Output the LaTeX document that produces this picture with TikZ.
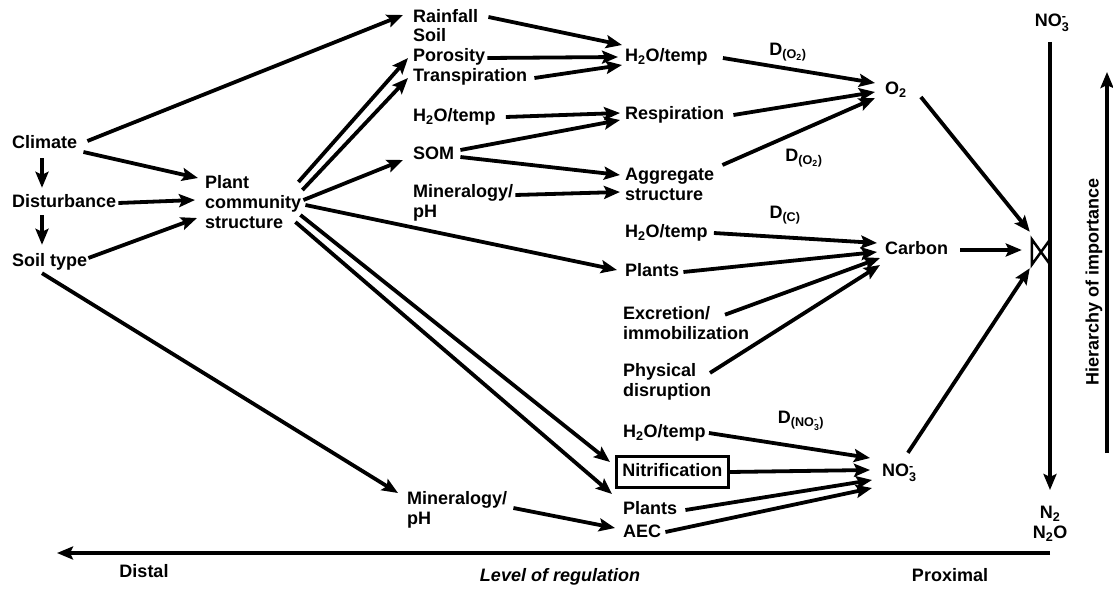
\documentclass[tikz,border=0pt]{standalone}
\usepackage{amsmath}
\usepackage{fontspec}
\setmainfont{Liberation Sans}
\usetikzlibrary{arrows.meta}
\newcommand{\nothree}{NO$^{\text{-}}_{\text{3}}$}
\begin{document}
\begin{tikzpicture}[x=1pt,y=1pt,
  lbl/.style={anchor=west, inner sep=0pt, font=\fontsize{18}{20}\selectfont\bfseries, text height=13pt, text depth=4pt},
  mlbl/.style={anchor=west, inner sep=0pt, font=\fontsize{18}{20}\selectfont\bfseries, align=left},
  dlab/.style={inner sep=0pt, font=\fontsize{18}{20}\selectfont\bfseries},
  arr/.style={line width=3.8pt, -{Stealth[length=16pt,width=13pt,inset=3pt]}},
  ln/.style={line width=3.8pt}]
\useasboundingbox (0,0) rectangle (1113,-591);

% column 1
\node[lbl] (climate) at (12,-144) {Climate};
\node[lbl] (dist) at (12,-203) {Disturbance};
\node[lbl] (soil) at (12,-262) {Soil type};
\node[mlbl] (plant) at (205,-202) {Plant\\community\\structure};
% column 2
\node[lbl] (rain) at (413,-18) {Rainfall};
\node[lbl] (soilw) at (413,-37) {Soil};
\node[lbl] (poro) at (413,-57) {Porosity};
\node[lbl] (trans) at (413,-77) {Transpiration};
\node[lbl] (h2oa) at (413,-117) {H\textsubscript{2}O/temp};
\node[lbl] (som) at (413,-155) {SOM};
\node[mlbl] (mina) at (413,-203) {Mineralogy/\\pH};
\node[mlbl] (minb) at (407,-510) {Mineralogy/\\pH};
% column 3
\node[lbl] (h2ob) at (625,-57) {H\textsubscript{2}O/temp};
\node[lbl] (resp) at (625,-115) {Respiration};
\node[mlbl] (aggr) at (625,-184) {Aggregate\\structure};
\node[lbl] (h2oc) at (625,-233) {H\textsubscript{2}O/temp};
\node[lbl] (plantsa) at (625,-272) {Plants};
\node[mlbl] (excr) at (623,-323) {Excretion/\\immobilization};
\node[mlbl] (phys) at (623,-382) {Physical\\disruption};
\node[lbl] (h2od) at (623,-433) {H\textsubscript{2}O/temp};
\node[lbl, draw, line width=2.5pt, inner xsep=6pt, inner ysep=7pt] (nitr) at (615,-472) {Nitrification};
\node[lbl] (plantsb) at (623,-510) {Plants};
\node[lbl] (aec) at (623,-533) {AEC};
% column 4
\node[lbl] (o2) at (885,-90) {O\textsubscript{2}};
\node[lbl] (carbon) at (885,-250) {Carbon};
\node[lbl] (no3) at (882,-472) {\nothree};
% right side
\node[lbl, anchor=center] (ntop) at (1052,-22) {\nothree};
\node[mlbl, anchor=center, align=center] (nbot) at (1050,-524) {N\textsubscript{2}\\N\textsubscript{2}O};
\node[minimum width=18pt, minimum height=25pt, inner sep=0pt] (bow) at (1041,-252) {};
\draw[line width=2.5pt, line join=miter] (bow.north west) -- (bow.south west) -- (bow.north east) -- (bow.south east) -- cycle;
\node[dlab, rotate=90] (hier) at (1094,-282) {Hierarchy of importance};
% D labels
\node[dlab] (da) at (788,-52) {D\textsubscript{(O\textsubscript{2})}};
\node[dlab] (db) at (804,-158) {D\textsubscript{(O\textsubscript{2})}};
\node[dlab] (dc) at (785,-215) {D\textsubscript{(C)}};
\node[dlab] (dd) at (801,-421) {D\textsubscript{(NO$^{\text{-}}_{\text{3}}$)}};
% bottom labels
\node[lbl, anchor=center] (distal) at (144,-573) {Distal};
\node[lbl, anchor=center, font=\fontsize{18}{20}\selectfont\bfseries\itshape] (level) at (560,-577) {Level of regulation};
\node[lbl, anchor=center] (prox) at (950,-577) {Proximal};
% coordinates
\coordinate (vtop) at (1050,-42);
\coordinate (vbot) at (1050,-490);
\coordinate (hlo) at (1107,-453);
\coordinate (hhi) at (1107,-72);
\coordinate (br) at (1050,-553);
\coordinate (bl) at (57,-553);

% arrows column 1
\draw[arr] ([xshift=30pt,yshift=-5.5pt]climate.south west) -- ([xshift=30pt,yshift=6.5pt]dist.north west);
\draw[arr] ([xshift=30pt,yshift=-3.5pt]dist.south west) -- ([xshift=30pt,yshift=8.5pt]soil.north west);
\draw[arr] ([xshift=6pt,yshift=-8pt]climate.east) -- ([xshift=-7pt,yshift=24pt]plant.west);
\draw[arr] ([xshift=10pt,yshift=3pt]climate.east) -- ([xshift=-10pt,yshift=3pt]rain.west);
\draw[arr] ([xshift=2pt]dist.east) -- ([xshift=-10pt,yshift=2pt]plant.west);
\draw[arr] ([xshift=1pt,yshift=4pt]soil.east) -- ([xshift=-8pt,yshift=-16pt]plant.west);
\draw[arr] ([xshift=30pt,yshift=-2.5pt]soil.south west) -- ([xshift=-9pt,yshift=17pt]minb.west);
% plant fan
\draw[arr] ([xshift=-3pt,yshift=20pt]plant.east) -- ([xshift=-5pt,yshift=-1pt]poro.west);
\draw[arr] ([xshift=1pt,yshift=12pt]plant.east) -- ([xshift=-5pt,yshift=-1pt]trans.west);
\draw[arr] ([xshift=2pt,yshift=2pt]plant.east) -- ([xshift=-10pt,yshift=-5pt]som.west);
\draw[arr] ([xshift=4pt,yshift=-3pt]plant.east) -- ([xshift=-8pt,yshift=2pt]plantsa.west);
\draw[arr] ([xshift=-1pt,yshift=-13pt]plant.east) -- ([xshift=-5pt,yshift=10pt]nitr.west);
\draw[arr] ([xshift=-6pt,yshift=-20pt]plant.east) -- ([xshift=-11pt,yshift=16pt]plantsb.west);
\draw[arr] ([xshift=6pt,yshift=2pt]minb.east) -- ([xshift=-8pt,yshift=5pt]aec.west);
% column 2 -> 3
\draw[arr] ([xshift=10pt,yshift=1pt]rain.east) -- ([xshift=-3pt,yshift=12pt]h2ob.west);
\draw[arr] ([xshift=2pt,yshift=-1pt]poro.east) -- ([xshift=-7pt]h2ob.west);
\draw[arr] ([xshift=7pt,yshift=-1pt]trans.east) -- ([xshift=-3pt,yshift=-8pt]h2ob.west);
\draw[arr] ([xshift=10pt]h2oa.east) -- ([xshift=-5pt,yshift=2pt]resp.west);
\draw[arr] ([xshift=6pt,yshift=5pt]som.east) -- ([xshift=-5pt,yshift=-5pt]resp.west);
\draw[arr] ([xshift=6pt,yshift=-2pt]som.east) -- ([xshift=-5pt,yshift=9pt]aggr.west);
\draw[arr] ([xshift=2pt,yshift=8pt]mina.east) -- ([xshift=-5pt,yshift=-8pt]aggr.west);
% column 3 -> 4
\draw[arr] ([xshift=15pt,yshift=-1pt]h2ob.east) -- ([xshift=-10pt,yshift=7pt]o2.west);
\draw[arr] ([xshift=9pt]resp.east) -- ([xshift=-10pt,yshift=-2pt]o2.west);
\draw[arr] ([xshift=8pt,yshift=19pt]aggr.east) -- ([xshift=-10pt,yshift=-8pt]o2.west);
\draw[arr] ([xshift=6pt]h2oc.east) -- ([xshift=-8pt,yshift=7pt]carbon.west);
\draw[arr] ([xshift=4pt]plantsa.east) -- ([xshift=-8pt,yshift=-2pt]carbon.west);
\draw[arr] ([xshift=102pt,yshift=-8.5pt]excr.north west) -- ([xshift=-5pt,yshift=-8pt]carbon.west);
\draw[arr] ([xshift=87pt,yshift=-9.5pt]phys.north west) -- ([xshift=-5pt,yshift=-15pt]carbon.west);
\draw[arr] ([xshift=3pt]h2od.east) -- ([xshift=-12pt,yshift=14pt]no3.west);
\draw[arr] (nitr.east) -- ([xshift=-12pt,yshift=2pt]no3.west);
\draw[arr] ([xshift=8pt]plantsb.east) -- ([xshift=-10pt,yshift=-8pt]no3.west);
\draw[arr] ([xshift=4pt,yshift=1pt]aec.east) -- ([xshift=-10pt,yshift=-16pt]no3.west);
% column 4 -> bowtie
\draw[arr] ([xshift=14pt,yshift=-7pt]o2.east) -- ([xshift=-2pt,yshift=7.5pt]bow.north west);
\draw[arr] ([xshift=12pt]carbon.east) -- ([xshift=-10pt,yshift=2pt]bow.west);
\draw[arr] ([xshift=-9pt,yshift=10.5pt]no3.north east) -- ([xshift=-2pt,yshift=-3.5pt]bow.south west);
% axes
\draw[arr] (vtop) -- (vbot);
\draw[arr] (hlo) -- (hhi);
\draw[arr] (br) -- (bl);
\end{tikzpicture}
\end{document}
